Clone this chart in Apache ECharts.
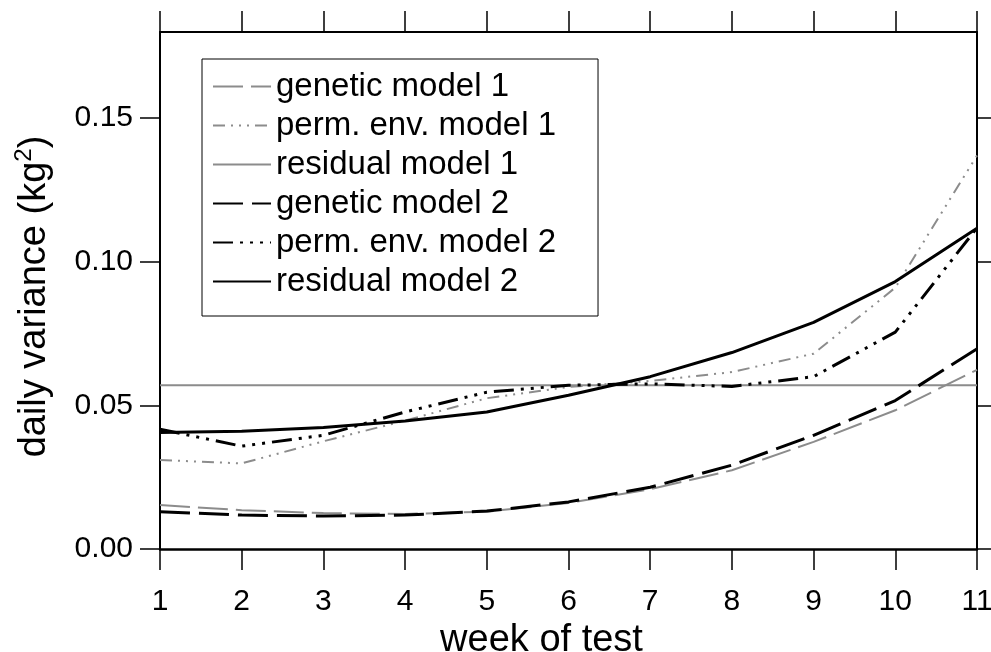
<!DOCTYPE html>
<html>
<head>
<meta charset="utf-8">
<script src="https://cdn.jsdelivr.net/npm/echarts@6/dist/echarts.min.js"></script>
<style>html,body{margin:0;padding:0;background:#fff;}#c{width:991px;height:652px;}</style>
</head>
<body>
<div id="c"></div>
<script>
const weeks = [1, 2, 3, 4, 5, 6, 7, 8, 9, 10, 11];
const geneticModel1 = [0.0153, 0.0135, 0.0125, 0.0122, 0.0130, 0.0160, 0.0208, 0.0274, 0.0373, 0.0483, 0.0624];
const permEnvModel1 = [0.0310, 0.0298, 0.0375, 0.0447, 0.0525, 0.0564, 0.0585, 0.0616, 0.0680, 0.0910, 0.1370];
const residualModel1 = [0.057, 0.057, 0.057, 0.057, 0.057, 0.057, 0.057, 0.057, 0.057, 0.057, 0.057];
const geneticModel2 = [0.0130, 0.0118, 0.0115, 0.0118, 0.0132, 0.0164, 0.0215, 0.0292, 0.0396, 0.0517, 0.0697];
const permEnvModel2 = [0.0417, 0.0358, 0.0396, 0.0477, 0.0546, 0.0570, 0.0575, 0.0566, 0.0600, 0.0755, 0.1118];
const residualModel2 = [0.0406, 0.0410, 0.0423, 0.0446, 0.0477, 0.0535, 0.0600, 0.0684, 0.0789, 0.0931, 0.1117];
const yTicks = [0, 0.05, 0.10, 0.15];
const seriesNames = ['genetic model 1', 'perm. env. model 1', 'residual model 1', 'genetic model 2', 'perm. env. model 2', 'residual model 2'];

const FONT = 'Liberation Sans';
const grey = '#8c8c8c';
function pts(arr) { return weeks.map((w, i) => [w, arr[i]]); }
function mk(name, arr, color, width, type) {
  return { name: name, type: 'line', data: pts(arr), symbol: 'none', smooth: false,
    lineStyle: { color: color, width: width, type: type, cap: 'butt' }, itemStyle: { color: color } };
}

const chart = echarts.init(document.getElementById('c'), null, { renderer: 'canvas' });
const axisLineStyle = { color: '#000', width: 2 };
chart.setOption({
  animation: false,
  backgroundColor: '#fff',
  grid: { left: 160, right: 14, top: 32, bottom: 103, containLabel: false, outerBoundsMode: 'none' },
  xAxis: [{
    type: 'value', min: 1, max: 11, interval: 1, position: 'bottom',
    axisLine: { show: true, onZero: false, lineStyle: { color: '#000', width: 2.5 } },
    axisTick: { show: true, inside: false, length: 21, lineStyle: { color: '#000', width: 1.5 } },
    axisLabel: { show: true, margin: 38, fontSize: 30, color: '#000', fontFamily: FONT },
    splitLine: { show: false },
    name: 'week of test', nameLocation: 'middle', nameGap: 72,
    nameTextStyle: { fontSize: 38, color: '#000', fontFamily: FONT, padding: [0, 54, 0, 0] }
  }, {
    type: 'value', min: 1, max: 11, interval: 1, position: 'top',
    axisLine: { show: true, onZero: false, lineStyle: axisLineStyle },
    axisTick: { show: true, inside: false, length: 21, lineStyle: { color: '#000', width: 1.5 } },
    axisLabel: { show: false }, splitLine: { show: false }
  }],
  yAxis: [{
    type: 'value', min: 0, max: 0.18, position: 'left',
    axisLine: { show: true, onZero: false, lineStyle: axisLineStyle },
    axisTick: { show: true, inside: false, length: 20, customValues: yTicks, lineStyle: { color: '#000', width: 1.5 } },
    axisLabel: { show: true, margin: 27, fontSize: 30, color: '#000', fontFamily: FONT, customValues: yTicks,
      padding: [10, 0, 0, 0], formatter: v => v.toFixed(2) },
    splitLine: { show: false },
    name: '{a|daily variance (kg}{s|2}{a|)}', nameLocation: 'middle', nameGap: 102, nameRotate: 90,
    nameTextStyle: { fontSize: 38, color: '#000', fontFamily: FONT, padding: [0, 12, 0, 0],
      rich: { a: { fontSize: 38, fontFamily: FONT, color: '#000', lineHeight: 46 },
              s: { fontSize: 24, fontFamily: FONT, color: '#000', verticalAlign: 'top', lineHeight: 46, padding: [0, 0, 14, 0] } } }
  }, {
    type: 'value', min: 0, max: 0.18, position: 'right',
    axisLine: { show: true, onZero: false, lineStyle: axisLineStyle },
    axisTick: { show: true, inside: false, length: 16, customValues: yTicks, lineStyle: { color: '#000', width: 1.5 } },
    axisLabel: { show: false }, splitLine: { show: false }
  }],
  legend: {
    data: seriesNames, orient: 'vertical', left: 202, top: 59,
    padding: [8, 42, 15, 10], itemGap: 0, itemWidth: 58, itemHeight: 14,
    borderColor: '#000', borderWidth: 1, backgroundColor: '#fff', selectedMode: false,
    itemStyle: { opacity: 0 },
    textStyle: { fontSize: 33, lineHeight: 39, color: '#000', fontFamily: FONT }
  },
  series: [
    mk(seriesNames[0], geneticModel1, grey, 2, [30, 8]),
    mk(seriesNames[1], permEnvModel1, grey, 2, [12, 6, 2, 6, 2, 6, 2, 6]),
    mk(seriesNames[2], residualModel1, grey, 2, 'solid'),
    mk(seriesNames[3], geneticModel2, '#000', 3, [30, 9]),
    mk(seriesNames[4], permEnvModel2, '#000', 3, [20, 7, 3, 7, 3, 7, 3, 7]),
    mk(seriesNames[5], residualModel2, '#000', 3, 'solid')
  ]
});
</script>
</body>
</html>
